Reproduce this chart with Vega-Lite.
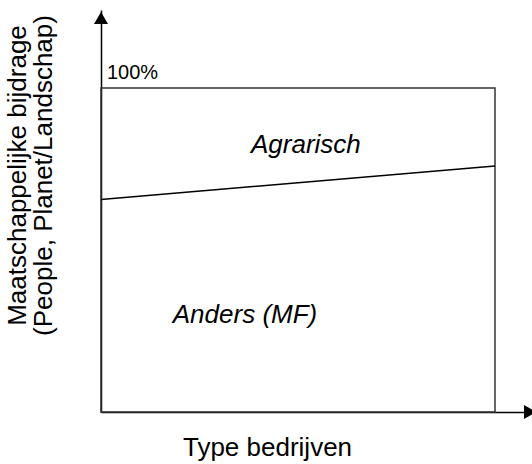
{
  "$schema": "https://vega.github.io/schema/vega-lite/v6.json",
  "autosize": "none",
  "width": 431,
  "height": 402,
  "padding": {"left": 101, "top": 10, "right": 0, "bottom": 52},
  "background": "white",
  "config": {"view": {"stroke": null}, "font": "Liberation Sans"},
  "datasets": {
    "box": [{"x": 0, "x2": 1, "y": 0, "y2": 100}],
    "split": [{"x": 0, "y": 65.6}, {"x": 1, "y": 75.9}],
    "labels": [
      {"x": 0.52, "y": 79.9, "label": "Agrarisch"},
      {"x": 0.3655, "y": 27.5, "label": "Anders (MF)"}
    ],
    "top": [{"x": 0, "y": 100, "label": "100%"}],
    "arrowUp": [{"x": 0, "y": 121.6}],
    "arrowRight": [{"x": 1.089, "y": 0}]
  },
  "layer": [
    {
      "data": {"name": "box"},
      "mark": {"type": "rect", "fill": null, "stroke": "#333333", "strokeWidth": 1.5},
      "encoding": {
        "x": {"field": "x", "type": "quantitative", "scale": {"domain": [0, 1.0939], "nice": false, "zero": false},
          "axis": {"title": "Type bedrijven", "ticks": false, "labels": false, "grid": false, "domainColor": "#000000", "domainWidth": 1.5, "titleFontSize": 26, "titleFontWeight": "normal", "titleColor": "#000000", "titleAlign": "center", "titleAnchor": "start", "titleX": 166, "titleY": 43, "titleBaseline": "alphabetic"}},
        "x2": {"field": "x2"},
        "y": {"field": "y", "type": "quantitative", "scale": {"domain": [0, 124.07], "nice": false, "zero": false},
          "axis": {"title": ["Maatschappelijke bijdrage", "(People, Planet/Landschap)"], "ticks": false, "labels": false, "grid": false, "domainColor": "#000000", "domainWidth": 1.5, "titleFontSize": 26, "titleFontWeight": "normal", "titleColor": "#000000", "titleAnchor": "middle", "titleY": 165, "titleX": -71, "titleLineHeight": 26}},
        "y2": {"field": "y2"}
      }
    },
    {
      "data": {"name": "split"},
      "mark": {"type": "line", "color": "#000000", "strokeWidth": 1.5},
      "encoding": {
        "x": {"field": "x", "type": "quantitative"},
        "y": {"field": "y", "type": "quantitative"}
      }
    },
    {
      "data": {"name": "labels"},
      "mark": {"type": "text", "fontSize": 26, "fontStyle": "italic", "align": "center", "baseline": "alphabetic", "color": "#000000"},
      "encoding": {
        "x": {"field": "x", "type": "quantitative"},
        "y": {"field": "y", "type": "quantitative"},
        "text": {"field": "label"}
      }
    },
    {
      "data": {"name": "top"},
      "mark": {"type": "text", "fontSize": 20, "align": "left", "baseline": "alphabetic", "dx": 6, "dy": -9, "color": "#000000"},
      "encoding": {
        "x": {"field": "x", "type": "quantitative"},
        "y": {"field": "y", "type": "quantitative"},
        "text": {"field": "label"}
      }
    },
    {
      "data": {"name": "arrowUp"},
      "mark": {"type": "point", "shape": "triangle-up", "filled": true, "size": 196, "color": "#000000", "opacity": 1},
      "encoding": {
        "x": {"field": "x", "type": "quantitative"},
        "y": {"field": "y", "type": "quantitative"}
      }
    },
    {
      "data": {"name": "arrowRight"},
      "mark": {"type": "point", "shape": "triangle-right", "filled": true, "size": 196, "color": "#000000", "opacity": 1},
      "encoding": {
        "x": {"field": "x", "type": "quantitative"},
        "y": {"field": "y", "type": "quantitative"}
      }
    }
  ]
}
